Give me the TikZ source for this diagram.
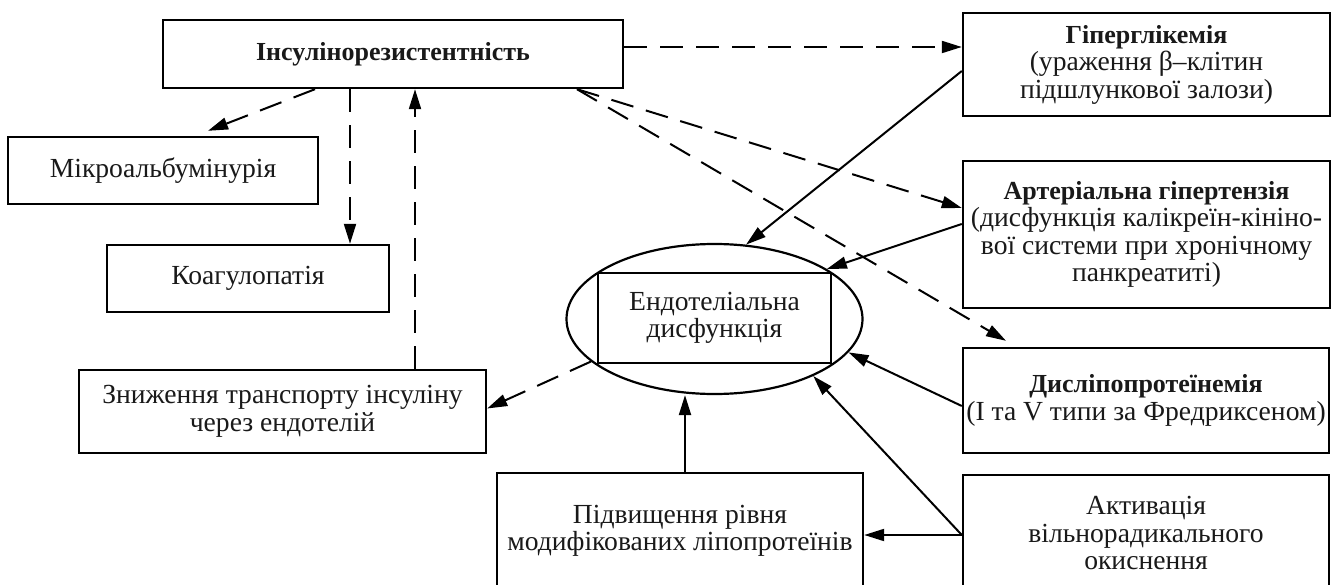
\documentclass[tikz,border=0pt]{standalone}
\usepackage{fontspec}
\setmainfont{Liberation Serif}
\usetikzlibrary{arrows.meta,shapes.geometric}
\newcommand{\bt}[1]{{\fontsize{26}{28}\selectfont\bfseries #1}}
\begin{document}
\begin{tikzpicture}[x=1pt,y=-1pt,
  box/.style={draw,line width=2.4pt,rectangle,inner sep=0pt,align=center,
    font=\fontsize{27.6}{27.5}\selectfont,text=black!90},
  sol/.style={line width=2pt,-{Triangle[length=20pt,width=12pt]}},
  dsh/.style={sol,dash pattern=on 23pt off 13pt}]
\clip (0,0) rectangle (1335,585);
\fill[white] (0,0) rectangle (1335,585);
\node[box,minimum width=460pt,minimum height=68pt] (ins) at (393,54) {\bt{Інсулінорезистентність}};
\node[box,minimum width=367pt,minimum height=103pt] (hyp) at (1146.5,64.5) {\bt{Гіперглікемія}\\(ураження β–клітин\\підшлункової залози)};
\node[box,minimum width=367pt,minimum height=147pt] (art) at (1146.5,234.5) {\bt{Артеріальна гіпертензія}\\(дисфункція калікреїн-кініно-\\вої системи при хронічному\\панкреатиті)};
\node[box,minimum width=366pt,minimum height=105pt] (dys) at (1146,400.5) {\bt{Дисліпопротеїнемія}\\(І та V типи за Фредриксеном)};
\node[box,minimum width=366pt,minimum height=116pt] (act) at (1146,533) {Активація\\вільнорадикального\\окиснення};
\node[box,minimum width=366pt,minimum height=116pt] (pid) at (680,531) {Підвищення рівня\\модифікованих ліпопротеїнів};
\node[box,minimum width=310pt,minimum height=67pt] (mic) at (163,170.5) {Мікроальбумінурія};
\node[box,minimum width=282pt,minimum height=67pt] (coa) at (248,278.5) {Коагулопатія};
\node[box,minimum width=407pt,minimum height=83pt] (zni) at (282.5,411.5) {Зниження транспорту інсуліну\\через ендотелій};
\node[draw,line width=2.2pt,ellipse,minimum width=296pt,minimum height=150pt,inner sep=0pt] (ell) at (714.5,319) {};
\node[box,line width=2.2pt,minimum width=233pt,minimum height=90pt] (endo) at (714.5,318) {Ендотеліальна\\дисфункція};
% dashed connectors
\draw[dsh] ([yshift=7pt]ins.east) -- ([yshift=7pt]ins.east -| hyp.west);
\draw[dsh] ([xshift=-78pt]ins.south) -- ([xshift=45pt,yshift=5pt]mic.north);
\draw[dsh] ([xshift=-43pt]ins.south) -- ([xshift=-43pt]ins.south |- coa.north);
\draw[dsh] ([xshift=132.5pt]zni.north) -- ([xshift=132.5pt]zni.north |- ins.south);
\draw[dsh] ([xshift=184pt]ins.south) -- ([yshift=26.5pt]art.west);
\draw[dsh] ([xshift=184pt]ins.south) -- ([xshift=-140pt,yshift=6pt]dys.north);
\draw[dsh] (ell.199) -- ([yshift=3pt]zni.east);
% solid connectors
\draw[sol] ([yshift=-6.5pt]hyp.west) -- (ell.67);
\draw[sol] ([yshift=10.5pt]art.west) -- (ell.24);
\draw[sol] ([yshift=-5.5pt]dys.west) -- (ell.-14);
\draw[sol] ([yshift=-2pt]act.west) -- (ell.-30.5);
\draw[sol] ([yshift=-2pt]act.west) -- ([yshift=-2pt]act.west -| pid.east);
\draw[sol] ([xshift=5pt]pid.north) -- ([xshift=5pt]pid.north |- ell.south);
\end{tikzpicture}
\end{document}
